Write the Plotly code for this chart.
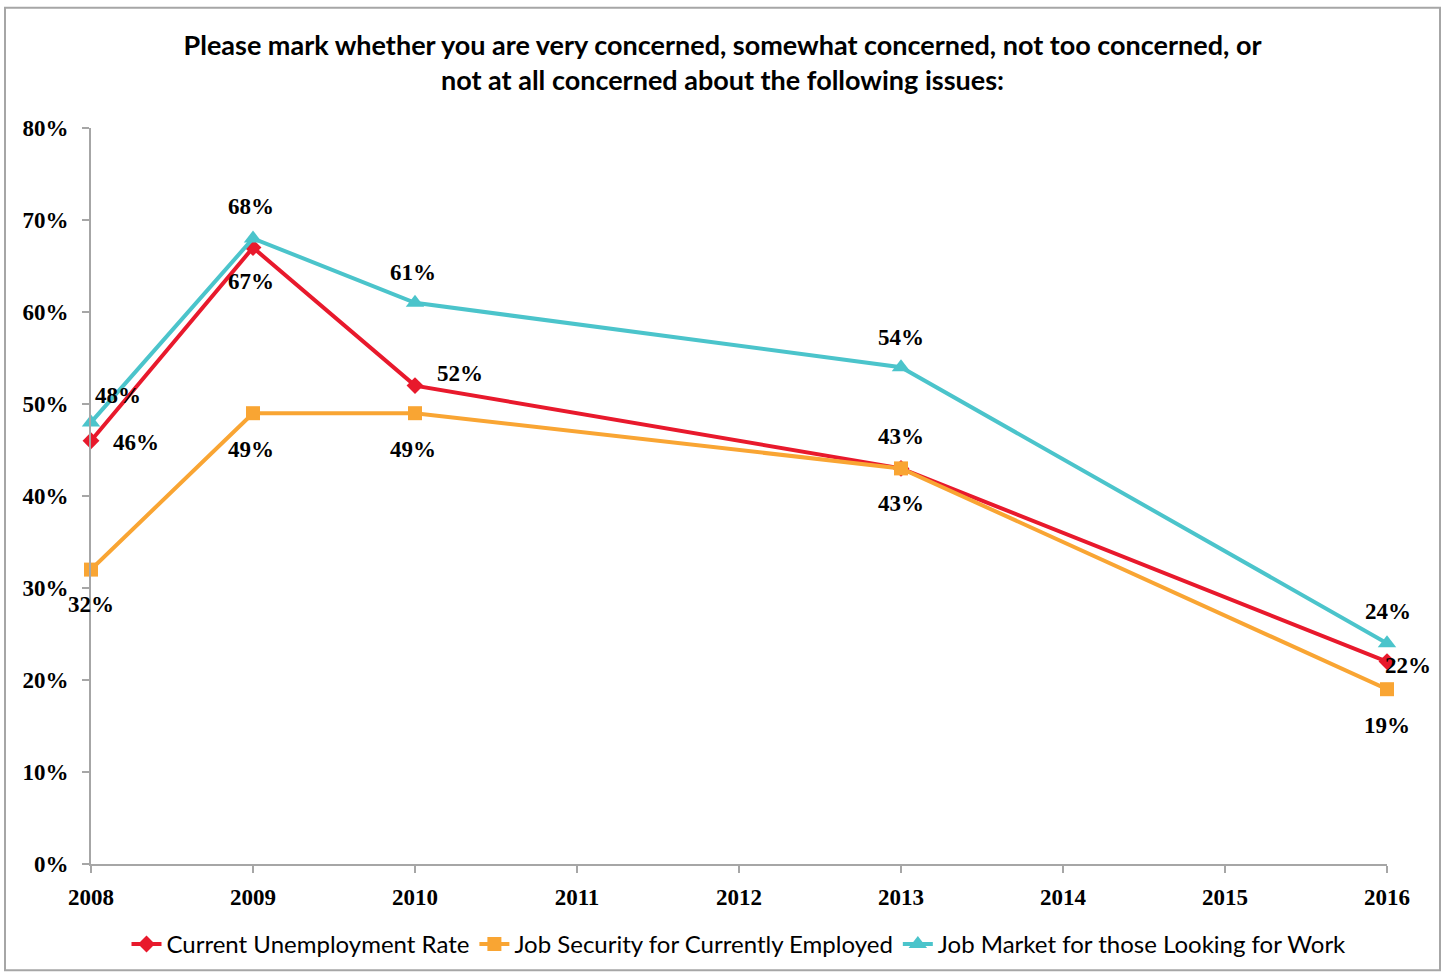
import plotly.graph_objects as go

years = [2008, 2009, 2010, 2013, 2016]
unemployment = [46, 67, 52, 43, 22]
job_security = [32, 49, 49, 43, 19]
job_market = [48, 68, 61, 54, 24]

series_names = [
    "Current Unemployment Rate",
    "Job Security for Currently Employed",
    "Job Market for those Looking for Work",
]
y_ticks = [0, 10, 20, 30, 40, 50, 60, 70, 80]
x_ticks = list(range(2008, 2017))

title_text = ("Please mark whether you are very concerned, somewhat concerned, not too concerned, or<br>"
              "not at all concerned about the following issues:")

RED = "#E8192C"
ORANGE = "#F9A533"
TEAL = "#4BC4CB"

serif = "Liberation Serif"
sans = "Lato"
label_font = dict(family=serif, size=23, color="black")

# per-point label offsets in pixels (dx, dy with dy positive = up)
red_offsets = [(45, -2), (-2, -34), (45, 12), (0, 32), (21, -4)]
orange_offsets = [(0, -35), (-2, -36), (-2, -36), (0, -35), (0, -36)]
teal_offsets = [(27, 27), (-2, 32), (-2, 30), (0, 30), (1, 32)]

fig = go.Figure()

fig.add_trace(go.Scatter(
    x=years, y=unemployment, name=series_names[0], mode="lines+markers",
    line=dict(color=RED, width=4), cliponaxis=False,
    marker=dict(symbol="diamond", size=13, color=RED),
))
fig.add_trace(go.Scatter(
    x=years, y=job_security, name=series_names[1], mode="lines+markers",
    line=dict(color=ORANGE, width=4), cliponaxis=False,
    marker=dict(symbol="square", size=14, color=ORANGE),
))
fig.add_trace(go.Scatter(
    x=years, y=job_market, name=series_names[2], mode="lines+markers",
    line=dict(color=TEAL, width=4), cliponaxis=False,
    marker=dict(symbol="triangle-up", size=16, color=TEAL),
))

annotations = []
for values, offsets in ((unemployment, red_offsets),
                        (job_security, orange_offsets),
                        (job_market, teal_offsets)):
    for yr, v, (dx, dy) in zip(years, values, offsets):
        annotations.append(dict(
            x=yr, y=v, xref="x", yref="y", text=f"<b>{v}%</b>",
            showarrow=False, xshift=dx, yshift=dy,
            xanchor="center", yanchor="middle", font=label_font,
        ))

W, H = 1445, 979
L, R, T, B = 91, 58, 128, 110
pw, ph = W - L - R, H - T - B


def px_x(p):
    return (p - L) / pw


def px_y(p):
    return (H - B - p) / ph


axis_common = dict(showgrid=False, zeroline=False, showline=True,
                   linecolor="#A6A6A6", linewidth=2, ticks="outside",
                   tickcolor="#A6A6A6", ticklen=7, tickwidth=2,
                   tickfont=dict(family=serif, size=23, color="black"))

fig.update_layout(
    width=W, height=H,
    margin=dict(l=L, r=R, t=T, b=B),
    paper_bgcolor="white", plot_bgcolor="white",
    title=dict(text=f"<b>{title_text}</b>", x=0.5, xanchor="center",
               y=1 - 55 / H, yanchor="middle", yref="container",
               font=dict(family=sans, size=27, color="black")),
    xaxis=dict(range=[2008, 2016], tickvals=x_ticks,
               ticktext=[f"<b>{t}</b>" for t in x_ticks],
               ticklabelstandoff=4, **axis_common),
    yaxis=dict(range=[0, 80], tickvals=y_ticks,
               ticktext=[f"<b>{t}%</b>" for t in y_ticks],
               ticklabelstandoff=9, **axis_common),
    legend=dict(orientation="h", x=0.5, xanchor="center", y=px_y(950), yanchor="middle",
                font=dict(family=sans, size=24, color="black"),
                tracegroupgap=0),
    showlegend=True,
    annotations=annotations,
    shapes=[dict(type="rect", xref="paper", yref="paper",
                 x0=px_x(5), x1=px_x(1440), y0=px_y(976), y1=px_y(7),
                 line=dict(color="#A6A6A6", width=2), layer="below")],
)

fig.write_html("out.html")
